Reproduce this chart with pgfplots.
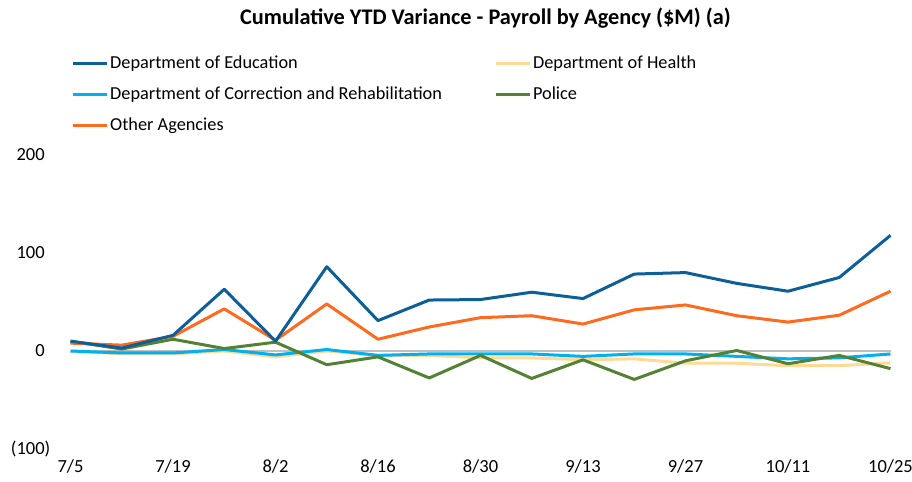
\documentclass[border=0pt]{standalone}
\usepackage{fontspec}
\setmainfont{Carlito}
\usepackage{pgfplots}
\pgfplotsset{compat=1.18}
\definecolor{edu}{HTML}{0C5F98}
\definecolor{health}{HTML}{FFD996}
\definecolor{corr}{HTML}{00B0F0}
\definecolor{police}{HTML}{548235}
\definecolor{other}{HTML}{FF6A1F}
\definecolor{zeroline}{HTML}{BFBFBF}
\begin{document}
\fontsize{18bp}{21bp}\selectfont
\begin{tikzpicture}
\useasboundingbox (0,0) rectangle (912bp,482bp);
\node[font=\bfseries\fontsize{22.3bp}{25bp}\selectfont] at (485.5bp,464bp) {Cumulative YTD Variance - Payroll by Agency (\$M) (a)};
\begin{axis}[
  at={(70.5bp,33bp)}, anchor=south west,
  scale only axis, width=820bp, height=294bp,
  xmin=0, xmax=16, ymin=-100, ymax=200,
  axis line style={draw=none}, tick style={draw=none},
  xtick={0,2,...,16},
  xticklabels={7/5,7/19,8/2,8/16,8/30,9/13,9/27,10/11,10/25},
  ytick={-100,0,100,200},
  yticklabels={{(100)},{0\phantom{)}},{100\phantom{)}},{200\phantom{)}}},
  ticklabel style={font=\fontsize{18.5bp}{21bp}\selectfont},
  yticklabel style={anchor=east, xshift=-14bp},
  xticklabel style={anchor=north, yshift=-4bp},
  clip=false,
  every axis plot/.append style={line width=3bp, line join=round},
]
\addplot[zeroline, line width=2bp] coordinates {(0,0) (16,0)};
\addplot[health] coordinates {(0,0) (1,-3) (2,-3) (3,0) (4,-6) (5,0) (6,-4.5) (7,-4.5) (8,-7) (9,-7) (10,-9) (11,-8) (12,-12.5) (13,-12.5) (14,-15) (15,-15) (16,-12)};
\addplot[corr] coordinates {(0,0) (1,-2) (2,-2) (3,1.5) (4,-4) (5,1.5) (6,-4.5) (7,-3) (8,-3) (9,-3) (10,-5.5) (11,-3) (12,-3) (13,-5.5) (14,-8) (15,-7) (16,-3)};
\addplot[police] coordinates {(0,10) (1,2) (2,12) (3,2.5) (4,9) (5,-14) (6,-6) (7,-27.5) (8,-4.5) (9,-28) (10,-9) (11,-29) (12,-10) (13,0.5) (14,-13) (15,-4.5) (16,-18)};
\addplot[other] coordinates {(0,8) (1,6) (2,15) (3,43) (4,11) (5,48) (6,12) (7,24.5) (8,34) (9,36) (10,27.5) (11,42) (12,47) (13,36) (14,29.5) (15,36.5) (16,61)};
\addplot[edu] coordinates {(0,10) (1,3) (2,16) (3,63) (4,10) (5,86) (6,31) (7,52) (8,52.5) (9,60) (10,53.5) (11,78.5) (12,80) (13,69) (14,61) (15,75) (16,118)};
\end{axis}
\begin{axis}[
  at={(70.5bp,33bp)}, anchor=south west,
  scale only axis, width=820bp, height=294bp,
  xmin=0, xmax=16, ymin=-100, ymax=200, hide axis,
  legend columns=2,
  legend cell align=left,
  legend style={at={(-0.003,1.353)}, anchor=north west, draw=none, fill=none,
    font=\fontsize{18.3bp}{21bp}\selectfont, row sep=12bp,
    /tikz/every odd column/.append style={column sep=0bp},
    /tikz/every even column/.append style={column sep=50bp}},
  legend image code/.code={\draw[#1] (0bp,0bp) -- (34bp,0bp);},
  every axis plot/.append style={line width=3bp},
]
\addlegendimage{edu}\addlegendentry{Department of Education}
\addlegendimage{health}\addlegendentry{Department of Health}
\addlegendimage{corr}\addlegendentry{Department of Correction and Rehabilitation}
\addlegendimage{police}\addlegendentry{Police}
\addlegendimage{other}\addlegendentry{Other Agencies}
\end{axis}
\end{tikzpicture}
\end{document}
